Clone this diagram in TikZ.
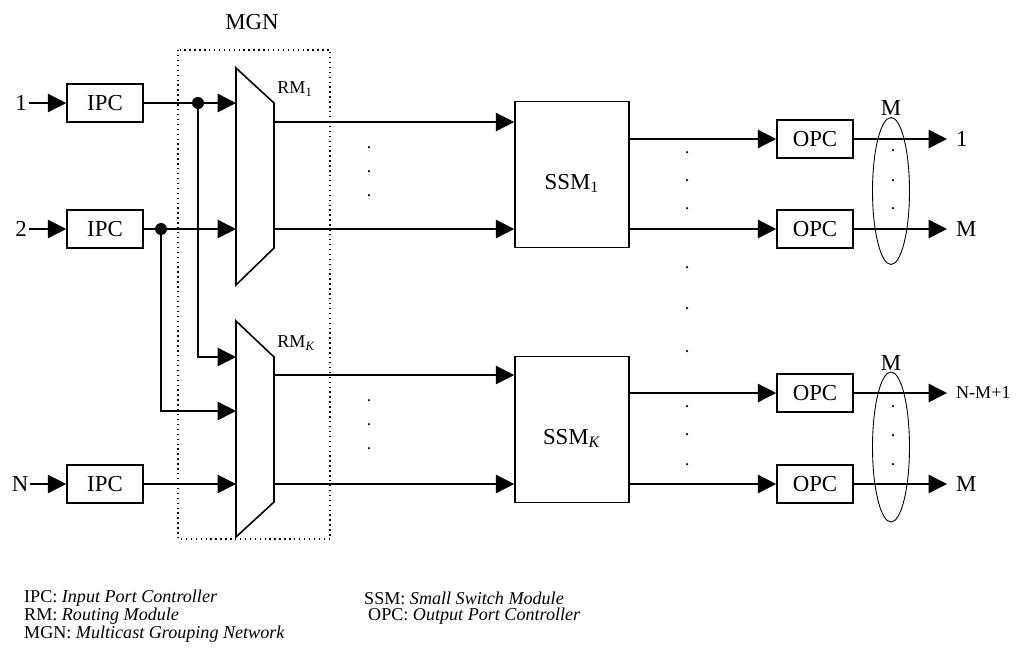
\documentclass[tikz,border=0pt]{standalone}
\usepackage{fontspec}
\setmainfont{Liberation Serif}
\usetikzlibrary{arrows.meta,positioning,shapes.geometric}

\begin{document}
\begin{tikzpicture}[
    x=0.02cm, y=-0.02cm,
    font=\fontsize{13}{15}\selectfont,
    blk/.style={draw, line width=0.9pt, minimum width=1.52cm, minimum height=0.76cm, inner sep=0pt},
    big/.style={draw, line width=0.9pt, minimum width=2.28cm, minimum height=2.92cm},
    rm/.style={draw, line width=0.9pt},
    fl/.style={-{Triangle[length=10.5pt,width=10.5pt]}, line width=0.8pt},
    ln/.style={line width=0.8pt},
    jn/.style={circle, fill, inner sep=0pt, minimum size=0.24cm},
    pt/.style={circle, fill, inner sep=0pt, minimum size=0.05cm},
    grp/.style={draw, ellipse, line width=0.5pt, minimum width=0.74cm, inner sep=0pt},
    lbl/.style={inner sep=1pt},
    olbl/.style={anchor=west, inner ysep=1pt, inner xsep=5pt},
    sm/.style={font=\fontsize{10.3}{12}\selectfont}
  ]
  \useasboundingbox (0,0) rectangle (1018,654);

  \draw[dotted, line width=0.8pt] (178,50) rectangle (330,539);
  \node (mgn) at (252,22) {MGN};

  % inputs
  \node[lbl] (in1) at (21,103) {1};
  \node[lbl] (in2) at (21,229) {2};
  \node[lbl] (inn) at (20,484) {N};
  \node[blk] (ipc1) at (105,103) {IPC};
  \node[blk] (ipc2) at (105,229) {IPC};
  \node[blk] (ipcn) at (105,484) {IPC};
  \draw[fl] (in1) -- (ipc1);
  \draw[fl] (in2) -- (ipc2);
  \draw[fl] (inn) -- (ipcn);

  % routing modules
  \draw[rm] (236,68) -- (274,103) -- (274,248) -- (236,285) -- cycle;
  \draw[rm] (236,321) -- (274,357) -- (274,502) -- (236,537) -- cycle;
  \node[sm, anchor=west, inner sep=0pt] (rm1) at (277,89) {RM\textsubscript{1}};
  \node[sm, anchor=west, inner sep=0pt] (rmk) at (277,343) {RM\textsubscript{\textit{K}}};
  \coordinate (rm1a) at (236,103);
  \coordinate (rm1b) at (236,229);
  \coordinate (rmka) at (236,357);
  \coordinate (rmkb) at (236,411);
  \coordinate (rmkc) at (236,484);
  \coordinate (rm1o1) at (274,122);
  \coordinate (rm1o2) at (274,229);
  \coordinate (rmko1) at (274,375);
  \coordinate (rmko2) at (274,484);

  \node[jn] (j1) at (198,103) {};
  \node[jn] (j2) at (161,229) {};
  \draw[ln] (ipc1) -- (j1);
  \draw[ln] (ipc2) -- (j2);
  \draw[fl] (j1) -- (rm1a);
  \draw[fl] (j2) -- (rm1b);
  \draw[fl] (j1) |- (rmka);
  \draw[fl] (j2) |- (rmkb);
  \draw[fl] (ipcn) -- (rmkc);

  % small switch modules
  \node[big, label={[yshift=-0.18cm]center:SSM\textsubscript{1}}] (ssm1) at (572,174.5) {};
  \node[big, label={[yshift=-0.18cm]center:SSM\textsubscript{\textit{K}}}] (ssmk) at (572,429.5) {};
  \draw[fl] (rm1o1) -- (rm1o1 -| ssm1.west);
  \draw[fl] (rm1o2) -- (rm1o2 -| ssm1.west);
  \draw[fl] (rmko1) -- (rmko1 -| ssmk.west);
  \draw[fl] (rmko2) -- (rmko2 -| ssmk.west);

  % output port controllers
  \node[blk] (opc1) at (815,139) {OPC};
  \node[blk] (opc2) at (815,229) {OPC};
  \node[blk] (opc3) at (815,393) {OPC};
  \node[blk] (opc4) at (815,484) {OPC};
  \draw[fl] (ssm1.east |- opc1) -- (opc1);
  \draw[fl] (ssm1.east |- opc2) -- (opc2);
  \draw[fl] (ssmk.east |- opc3) -- (opc3);
  \draw[fl] (ssmk.east |- opc4) -- (opc4);

  \node[grp, minimum height=2.94cm] (g1) at (891,191) {};
  \node[grp, minimum height=3.0cm] (g2) at (891,447) {};
  \node[anchor=south, inner sep=0.5pt] (gm1) at (g1.north) {M};
  \node[anchor=south, inner sep=0.5pt] (gm2) at (g2.north) {M};

  \node[olbl] (o1) at (947,139) {1};
  \node[olbl] (o2) at (947,229) {M};
  \node[olbl, sm] (o3) at (947,393) {N-M+1};
  \node[olbl] (o4) at (947,484) {M};
  \draw[fl] (opc1) -- (o1);
  \draw[fl] (opc2) -- (o2);
  \draw[fl] (opc3) -- (o3);
  \draw[fl] (opc4) -- (o4);

  \foreach \y in {147,171,195,400,424,448} \node[pt] at (369,\y) {};
  \foreach \y in {152,180,208,267,308,351,406,434,464} \node[pt] at (687,\y) {};
  \foreach \y in {150,180,208,406,435,464} \node[pt] at (893,\y) {};

  % legend
  \node[sm, anchor=west] (lg1) at (18,598) {IPC: \textit{Input Port Controller}};
  \node[sm, anchor=west] (lg2) at (18,616) {RM: \textit{Routing Module}};
  \node[sm, anchor=west] (lg3) at (18,634) {MGN: \textit{Multicast Grouping Network}};
  \node[sm, anchor=west] (lg4) at (358,598) {SSM: \textit{Small Switch Module}};
  \node[sm, anchor=west] (lg5) at (362,616) {OPC: \textit{Output Port Controller}};
\end{tikzpicture}
\end{document}
